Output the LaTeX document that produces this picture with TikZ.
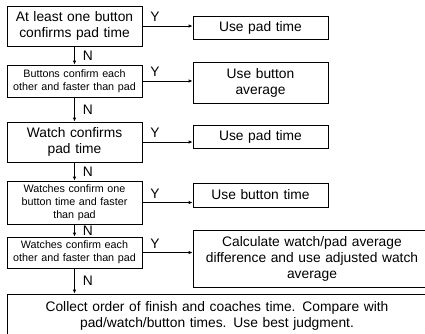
\documentclass[tikz,border=0pt]{standalone}
\usepackage{fontspec}
\setmainfont{Liberation Sans}
\usetikzlibrary{arrows.meta}

\begin{document}
\begin{tikzpicture}[x=1pt,y=-1pt]
    % Define styles
    \tikzstyle{box}=[draw, line width=0.8pt, inner sep=0pt, text width=135pt, align=center, minimum height=23pt, font=\fontsize{13.8}{16}\selectfont]
    \tikzstyle{smallbox}=[box, font=\fontsize{10.75}{13}\selectfont]
    \tikzstyle{flow}=[line width=0.8pt, -{Latex[length=4pt,width=3.5pt]}]
    \tikzstyle{lbl}=[font=\fontsize{13.8}{16}\selectfont, inner sep=0pt]

    \useasboundingbox (0,0) rectangle (425,333);
    \clip (0,0) rectangle (425,333);

    % Questions (left column)
    \node[box, minimum height=40pt] (check1) at (74.5,26) {At least one button\\confirms pad time};
    \node[smallbox, minimum height=32pt] (check2) at (74.5,81) {Buttons confirm each\\other and faster than pad};
    \node[box, minimum height=40pt] (check3) at (74.5,142) {Watch confirms\\pad time};
    \node[smallbox, minimum height=43pt] (check4) at (74.5,202.5) {Watches confirm one\\button time and faster\\than pad};
    \node[smallbox, minimum height=31pt] (check5) at (74.5,252.5) {Watches confirm each\\other and faster than pad};
    \node[box, text width=420pt, minimum height=44pt] (fallback) at (217,316) {Collect order of finish and coaches time. Compare with\\pad/watch/button times. Use best judgment.};

    % Answers (right column)
    \node[box] (use1) at (260.5,27.5) {Use pad time};
    \node[box, minimum height=41pt] (use2) at (260.5,82.5) {Use button\\average};
    \node[box] (use3) at (260.5,136.5) {Use pad time};
    \node[box, minimum height=24pt] (use4) at (260.5,195) {Use button time};
    \node[box, text width=238pt, minimum height=57pt] (use5) at (312,258.5) {Calculate watch/pad average\\difference and use adjusted watch\\average};

    % Yes arrows
    \draw[flow] (check1.east) -- (check1.east -| use1.west) node[lbl, pos=0.25, above=4pt] {Y};
    \draw[flow] (check2.east) -- (check2.east -| use2.west) node[lbl, pos=0.25, above=4pt] {Y};
    \draw[flow] (check3.east) -- (check3.east -| use3.west) node[lbl, pos=0.25, above=4pt] {Y};
    \draw[flow] (check4.east) -- (check4.east -| use4.west) node[lbl, pos=0.25, above=4pt] {Y};
    \draw[flow] (check5.east) -- (check5.east -| use5.west) node[lbl, pos=0.25, above=4pt] {Y};

    % No arrows
    \draw[flow] (check1.south) -- (check2.north) node[lbl, midway, right=8pt] {N};
    \draw[flow] (check2.south) -- (check3.north) node[lbl, midway, right=8pt] {N};
    \draw[flow] (check3.south) -- (check4.north) node[lbl, midway, right=8pt] {N};
    \draw[flow] (check4.south) -- (check5.north) node[lbl, midway, right=8pt] {N};
    \draw[flow] (check5.south) -- (check5.south |- fallback.north) node[lbl, midway, right=8pt] {N};
\end{tikzpicture}
\end{document}
